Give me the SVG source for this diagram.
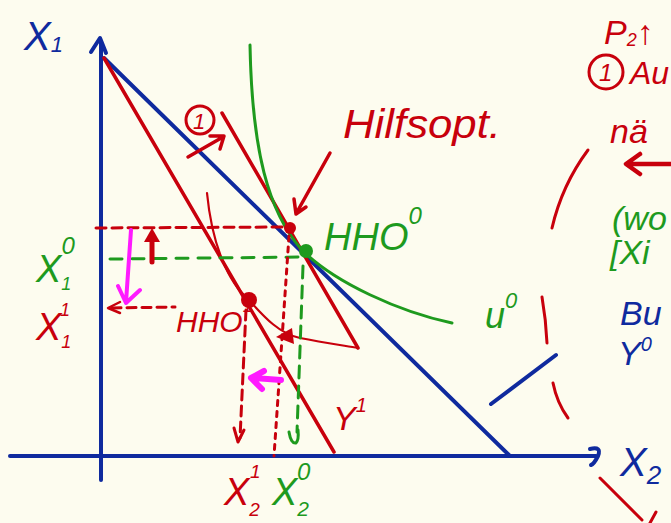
<svg xmlns="http://www.w3.org/2000/svg" width="671" height="523" viewBox="0 0 671 523">
<style>
.b{stroke:#0f2a9e;fill:none;stroke-linecap:round;stroke-linejoin:round}
.r{stroke:#c8000c;fill:none;stroke-linecap:round;stroke-linejoin:round}
.g{stroke:#1e9a1e;fill:none;stroke-linecap:round;stroke-linejoin:round}
.m{stroke:#ff1aff;fill:none;stroke-linecap:round;stroke-linejoin:round}
.t{font-family:"Liberation Sans",Arial,sans-serif;font-style:italic}
.tb{fill:#0f2a9e}.tr{fill:#c8000c}.tg{fill:#1e9a1e}
</style>
<rect width="671" height="523" fill="#fdfcef"/>
<g id="connectors">
  <!-- axes -->
  <path class="b" stroke-width="4" d="M101,42 L101,480"/>
  <path class="b" stroke-width="4" d="M91,52 L100,38 L106,53"/>
  <path class="b" stroke-width="4" d="M10,456 L596,456"/>
  <path class="b" stroke-width="4" d="M590,449 Q602,446 598,456 Q594,464 591,465"/>
  <!-- budget line -->
  <path class="b" stroke-width="4" d="M104,58 L510,456"/>
  <path class="b" stroke-width="4" d="M491,404 L556,355"/>
  <!-- red budget lines -->
  <path class="r" stroke-width="3.5" d="M104,58 L334,452"/>
  <path class="r" stroke-width="3.5" d="M222,113 L358,348"/>
  <!-- indifference curves -->
  <path class="g" stroke-width="3" d="M250,45 C252,150 268,212 302,250 C335,283 400,312 452,323"/>
  <path class="r" stroke-width="2.2" d="M207,193 C212,245 228,282 249,300 C265,318 280,334 300,338 C320,342 340,345 358,348"/>
  <!-- dashed guides -->
  <path class="r" stroke-width="3" stroke-dasharray="10 6" d="M96,228 L289,227"/>
  <path class="g" stroke-width="3" stroke-dasharray="12 10" d="M110,259 L303,257"/>
  <path class="r" stroke-width="3" stroke-dasharray="9 6" d="M112,308 L175,307"/>
  <path class="r" stroke-width="2.5" d="M120,302 L108,308 L120,313"/>
  <path class="r" stroke-width="3" stroke-dasharray="10 6" d="M246,310 L240,438"/>
  <path class="r" stroke-width="3" d="M234,428 L238,442 L244,430"/>
  <path class="r" stroke-width="3" stroke-dasharray="5 6" d="M289,236 L274,456"/>
  <path class="g" stroke-width="3" stroke-dasharray="12 8" d="M303,266 L297,432"/>
  <path class="g" stroke-width="3" d="M289,432 Q291,444 296,443 Q299,440 298,430"/>
  <!-- arrows -->
  <path class="r" stroke-width="5" d="M152,262 L152,238"/>
  <path fill="#c8000c" d="M144,242 L152,228 L160,242 Z"/>
  <path class="m" stroke-width="4" d="M131,230 L126,302 M118,286 L126,303 L140,290"/>
  <path class="m" stroke-width="6" d="M281,380 L253,378 M264,371 L251,378 L262,389"/>
  <path class="r" stroke-width="3.5" d="M188,157 L223,137 M210,136 L224,136 L220,149"/>
  <path class="r" stroke-width="3.5" d="M330,153 L297,212 M294,199 L296,214 L306,207"/>
  <path fill="#c8000c" d="M276,337 L292,328 L294,344 Z"/>
  <path class="r" stroke-width="4.5" d="M671,164 L628,164 M640,154 L626,164 L640,174"/>
  <!-- right side marks -->
  <path class="r" stroke-width="3" d="M552,228 Q562,185 588,150"/>
  <path class="r" stroke-width="3" d="M542,297 Q546,320 547,343"/>
  <path class="r" stroke-width="3" d="M553,383 Q557,403 568,418"/>
  <path class="r" stroke-width="3" d="M600,478 L642,520 M650,523 L656,512"/>
</g>
<g id="points">
  <circle id="hilfsopt-pt" cx="290" cy="228" r="6" fill="#c8000c"/>
  <circle id="hho0-pt" cx="306" cy="251" r="7" fill="#1e9a1e"/>
  <circle id="hho1-pt" cx="249" cy="300" r="8" fill="#c8000c"/>
</g>
<g id="labels">
  <text class="t tb" x="24" y="50" font-size="40">X<tspan font-size="22" dy="2">1</tspan></text>
  <text class="t tb" x="620" y="476" font-size="40">X<tspan font-size="26" dy="8">2</tspan></text>
  <text class="t tr" x="343" y="138" font-size="40" textLength="158" lengthAdjust="spacingAndGlyphs">Hilfsopt.</text>
  <text class="t tg" x="324" y="250" font-size="38">HHO<tspan font-size="24" dy="-26">0</tspan></text>
  <text class="t tr" x="176" y="332" font-size="30">HHO<tspan font-size="18" dy="-20">1</tspan></text>
  <text class="t tg" x="36" y="282" font-size="38">X<tspan font-size="18" dy="8">1</tspan><tspan font-size="24" dx="-10" dy="-36">0</tspan></text>
  <text class="t tr" x="36" y="340" font-size="38">X<tspan font-size="18" dy="8">1</tspan><tspan font-size="18" dx="-10" dy="-32">1</tspan></text>
  <text class="t tg" x="485" y="328" font-size="36">u<tspan font-size="22" dy="-20">0</tspan></text>
  <text class="t tr" x="333" y="430" font-size="34">Y<tspan font-size="20" dy="-18">1</tspan></text>
  <text class="t tr" x="224" y="505" font-size="38">X<tspan font-size="19" dy="11">2</tspan><tspan font-size="19" dx="-10" dy="-38">1</tspan></text>
  <text class="t tg" x="272" y="505" font-size="38">X<tspan font-size="21" dy="11">2</tspan><tspan font-size="24" dx="-12" dy="-36">0</tspan></text>
  <circle class="r" stroke-width="3" cx="200" cy="120" r="14"/>
  <text class="t tr" x="193" y="129" font-size="22">1</text>
  <!-- right column (cut off) -->
  <text class="t tr" x="604" y="44" font-size="34">P<tspan font-size="18" dy="2">2</tspan><tspan dy="-2">↑</tspan></text>
  <circle class="r" stroke-width="3" cx="606" cy="72" r="17"/>
  <text class="t tr" x="599" y="81" font-size="24">1</text>
  <text class="t tr" x="630" y="84" font-size="32">Au</text>
  <text class="t tr" x="610" y="143" font-size="34">nä</text>
  <text class="t tg" x="612" y="230" font-size="34">(wo</text>
  <text class="t tg" x="610" y="264" font-size="34">[Xi</text>
  <text class="t tb" x="620" y="325" font-size="34">Bu</text>
  <text class="t tb" x="618" y="365" font-size="34">Y<tspan font-size="20" dy="-14">0</tspan></text>
</g>
</svg>
